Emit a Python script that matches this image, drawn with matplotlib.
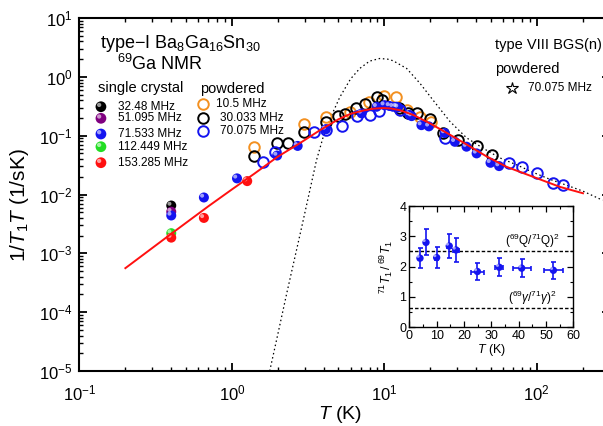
import matplotlib
matplotlib.use("Agg")
import matplotlib.pyplot as plt
from matplotlib.transforms import ScaledTranslation
from matplotlib.ticker import LogLocator, MultipleLocator, NullFormatter

plt.rcParams["font.family"] = ["Liberation Sans", "DejaVu Sans"]
plt.rcParams["mathtext.fontset"] = "custom"
plt.rcParams["mathtext.rm"] = "Liberation Sans"
plt.rcParams["mathtext.it"] = "Liberation Sans:italic"
plt.rcParams["mathtext.bf"] = "Liberation Sans:bold"

# ── Data: 1/T1T (1/sK) vs T (K) ──────────────────────────────────
# single crystal, filled symbols
sc32_T = [0.4]
sc32_val = [6.5e-3]
sc51_T = [0.4]
sc51_val = [5.1e-3]
sc71_T = [0.4, 0.655, 1.08, 1.98, 2.70, 4.13, 7.1, 8.9, 10.0, 10.8, 11.4, 12.0,
          12.3, 14.6, 15.1, 17.5, 19.6, 24.9, 29.0, 34.6, 40.3, 49.7, 56.6]
sc71_val = [4.4e-3, 8.9e-3, 0.0188, 0.046, 0.067, 0.128, 0.239, 0.31, 0.33, 0.32,
            0.31, 0.31, 0.303, 0.225, 0.215, 0.151, 0.144, 0.111, 0.0787, 0.065,
            0.050, 0.0346, 0.0304]
sc112_T = [0.4]
sc112_val = [2.2e-3]
sc153_T = [0.4, 0.655, 1.26]
sc153_val = [1.85e-3, 4.0e-3, 0.0169]

# powdered, open symbols
pw10_T = [1.39, 2.97, 4.17, 5.94, 7.9, 9.95, 12.0, 14.0, 17.1, 20.1]
pw10_val = [0.065, 0.160, 0.207, 0.252, 0.368, 0.465, 0.46, 0.272, 0.21, 0.173]
pw30_T = [1.39, 1.98, 2.35, 2.97, 4.17, 4.97, 5.5, 6.5, 7.45, 8.9, 9.6, 12.5,
          14.3, 16.3, 19.9, 24.3, 30.5, 40.3, 50.5]
pw30_val = [0.046, 0.076, 0.076, 0.117, 0.168, 0.22, 0.235, 0.30, 0.344, 0.46,
            0.40, 0.30, 0.245, 0.239, 0.19, 0.109, 0.0845, 0.067, 0.047]
pw70_T = [1.59, 1.92, 3.47, 4.13, 5.24, 6.6, 8.0, 9.2, 12.6, 24.9, 65.8, 80.5,
          100.5, 127, 149]
pw70_val = [0.0356, 0.053, 0.117, 0.124, 0.148, 0.215, 0.225, 0.26, 0.272, 0.09,
            0.0338, 0.0289, 0.0229, 0.0158, 0.0143]

# red fit curve
fit_T = [0.2, 0.4, 0.7, 1.0, 1.4, 2.0, 2.8, 3.8, 5.0, 6.0, 7.3, 8.5, 9.8, 11.0,
         12.6, 15.5, 19.9, 25.6, 34.6, 46.8, 63.2, 94.6, 141.6, 201]
fit_val = [5.6e-4, 2.15e-3, 6.3e-3, 0.0122, 0.0225, 0.044, 0.075, 0.125, 0.19,
           0.235, 0.268, 0.288, 0.295, 0.29, 0.272, 0.225, 0.162, 0.112, 0.071,
           0.0445, 0.0296, 0.0200, 0.0135, 0.0105]

# dotted curve, type VIII BGS(n)
bgs_T = [1.77, 2.0, 2.29, 2.87, 3.59, 3.97, 4.5, 5.1, 6.0, 6.9, 8.0, 9.3, 10.5,
         11.4, 14.0, 17.1, 20.9, 26.9, 34.6, 44.5, 57.2, 73.6, 94.6, 121.6, 164,
         201, 270]
bgs_val = [1.0e-5, 4.2e-5, 2.1e-4, 2.8e-3, 0.0385, 0.095, 0.22, 0.45, 0.92, 1.39,
           1.85, 2.05, 2.0, 1.88, 1.39, 0.78, 0.40, 0.175, 0.092, 0.061, 0.042,
           0.032, 0.0238, 0.0182, 0.0138, 0.0114, 0.0080]

# inset: 71T1/69T1 ratio
ins_T = [3.9, 6.1, 10.0, 14.6, 17.1, 24.9, 32.9, 41.1, 52.7]
ins_ratio = [2.28, 2.80, 2.30, 2.68, 2.55, 1.84, 1.98, 1.95, 1.88]
ins_yerr = [0.34, 0.43, 0.35, 0.41, 0.38, 0.28, 0.30, 0.30, 0.29]
ins_xerr = [0.3, 0.5, 0.5, 0.7, 1.0, 2.3, 1.5, 3.3, 3.5]
q_ratio_sq = 2.5
gamma_ratio_sq = 0.62

ORANGE = "#f39020"
BLUE = "#1414f0"
PURPLE = "#800080"
GREEN = "#22dd22"
RED = "#ff1010"

fig = plt.figure(figsize=(6.03, 4.26), dpi=100)
ax = fig.add_axes([0.1318, 0.1291, 0.879, 0.8286])


def balls(a, x, y, color, size=52, transform=None, z=3):
    # filled circle with a small highlight, looks like the shaded spheres
    tr = a.transData if transform is None else transform
    a.scatter(x, y, s=size, color=color, edgecolors="none", transform=tr, zorder=z)
    shift = tr + ScaledTranslation(-1.3 / 72, 1.3 / 72, fig.dpi_scale_trans)
    a.scatter(x, y, s=size * 0.16, color="white", alpha=0.6, edgecolors="none",
              transform=shift, zorder=z + 0.1)


def rings(a, x, y, color, transform=None, z=2.5):
    tr = a.transData if transform is None else transform
    a.plot(x, y, "o", ms=7.6, mfc="none", mec=color, mew=1.4, ls="none",
           transform=tr, zorder=z)


# ── Curves and points ────────────────────────────────────────────
ax.plot(bgs_T, bgs_val, color="k", ls=(0, (1.2, 2.2)), lw=0.9, zorder=2)

rings(ax, pw10_T, pw10_val, ORANGE)
rings(ax, pw30_T, pw30_val, "k")
rings(ax, pw70_T, pw70_val, BLUE)

balls(ax, sc32_T, sc32_val, "k")
balls(ax, sc51_T, sc51_val, PURPLE)
balls(ax, sc71_T, sc71_val, BLUE)
balls(ax, sc112_T, sc112_val, GREEN)
balls(ax, sc153_T, sc153_val, RED)

ax.plot(fit_T, fit_val, color=RED, lw=1.4, zorder=4)

ax.set_xscale("log")
ax.set_yscale("log")
ax.set_xlim(0.1, 300)
ax.set_ylim(1e-5, 10)

for s in ax.spines.values():
    s.set_linewidth(1.5)
ax.tick_params(which="both", direction="in", top=True, right=True, labelsize=12)
ax.tick_params(which="major", length=6, width=1.3)
ax.tick_params(which="minor", length=3, width=1.0)
ax.tick_params(axis="x", pad=9)
ax.tick_params(axis="y", pad=5)
ax.xaxis.set_minor_locator(LogLocator(base=10, subs=range(2, 10)))
ax.yaxis.set_minor_locator(LogLocator(base=10, subs=range(2, 10)))
ax.xaxis.set_minor_formatter(NullFormatter())
ax.yaxis.set_minor_formatter(NullFormatter())

ax.set_xlabel(r"$T$ (K)", fontsize=14)
ax.xaxis.set_label_coords(0.492, -0.093)
ax.set_ylabel(r"$1/T_1T$ (1/sK)", fontsize=15)
ax.yaxis.set_label_coords(-0.092, 0.47)

# ── Annotations / hand-made legends ─────────────────────────────
ax.text(0.0387, 0.914, r"type$-$I Ba$_8$Ga$_{16}$Sn$_{30}$", transform=ax.transAxes,
        fontsize=13, va="baseline")
ax.text(0.0707, 0.853, r"$^{69}$Ga NMR", transform=ax.transAxes, fontsize=13,
        va="baseline")

ax.text(0.0349, 0.7895, "single crystal", transform=ax.transAxes, fontsize=10.5,
        va="baseline")
sc_labels = ["32.48 MHz", "51.095 MHz", "71.533 MHz", "112.449 MHz", "153.285 MHz"]
sc_colors = ["k", PURPLE, BLUE, GREEN, RED]
sc_rows = [0.7487, 0.7159, 0.6714, 0.6354, 0.5901]
for lab, col, yy in zip(sc_labels, sc_colors, sc_rows):
    balls(ax, [0.0405], [yy], col, size=60, transform=ax.transAxes, z=5)
    ax.text(0.0726, yy, lab, transform=ax.transAxes, fontsize=8.5, va="center")

ax.text(0.2273, 0.7867, "powdered", transform=ax.transAxes, fontsize=10.5,
        va="baseline")
pw_labels = ["10.5 MHz", "30.033 MHz", "70.075 MHz"]
pw_colors = [ORANGE, "k", BLUE]
pw_rows = [0.7564, 0.7167, 0.679]
pw_textx = [0.2575, 0.265, 0.265]
for lab, col, yy, tx in zip(pw_labels, pw_colors, pw_rows, pw_textx):
    rings(ax, [0.2335], [yy], col, transform=ax.transAxes, z=5)
    ax.text(tx, yy, lab, transform=ax.transAxes, fontsize=8.5, va="center")

ax.text(0.7837, 0.912, "type VIII BGS(n)", transform=ax.transAxes, fontsize=10.5,
        va="baseline")
ax.text(0.7837, 0.843, "powdered", transform=ax.transAxes, fontsize=10.5,
        va="baseline")
ax.plot([0.8152], [0.8026], marker="*", ms=9, mfc="white", mec="k", mew=0.8,
        transform=ax.transAxes, ls="none")
ax.text(0.8465, 0.8026, "70.075 MHz", transform=ax.transAxes, fontsize=8.5,
        va="center")

# ── Inset: T1 ratio ─────────────────────────────────────────────
ins = fig.add_axes([0.6788, 0.2317, 0.272, 0.2847])
ins.axhline(q_ratio_sq, color="k", ls=(0, (2.5, 1.5)), lw=1.0, zorder=1)
ins.axhline(gamma_ratio_sq, color="k", ls=(0, (2.5, 1.5)), lw=1.0, zorder=1)
ins.errorbar(ins_T, ins_ratio, xerr=ins_xerr, yerr=ins_yerr, fmt="none",
             ecolor=BLUE, elinewidth=1.2, capsize=1.8, capthick=1.2, zorder=2)
balls(ins, ins_T, ins_ratio, BLUE, size=28)
ins.set_xlim(0, 60)
ins.set_ylim(0, 4)
ins.xaxis.set_major_locator(MultipleLocator(10))
ins.xaxis.set_minor_locator(MultipleLocator(5))
ins.yaxis.set_major_locator(MultipleLocator(1))
ins.yaxis.set_minor_locator(MultipleLocator(0.5))
ins.tick_params(which="both", direction="in", top=True, right=True, labelsize=9,
                pad=2)
ins.tick_params(which="major", length=4, width=0.9)
ins.tick_params(which="minor", length=2, width=0.8)
for s in ins.spines.values():
    s.set_linewidth(1.0)
ins.set_xlabel(r"$T$ (K)", fontsize=9, labelpad=0)
ins.set_ylabel(r"$^{71}T_1\,/\,^{69}T_1$", fontsize=9, labelpad=3)
ins.text(35.0, q_ratio_sq + 0.05, r"($^{69}$Q/$^{71}$Q)$^2$", fontsize=8.5,
         va="bottom")
ins.text(36.2, gamma_ratio_sq + 0.06, r"($^{69}\gamma$/$^{71}\gamma$)$^2$",
         fontsize=8.5, va="bottom")

fig.savefig("out.png", dpi=100)
